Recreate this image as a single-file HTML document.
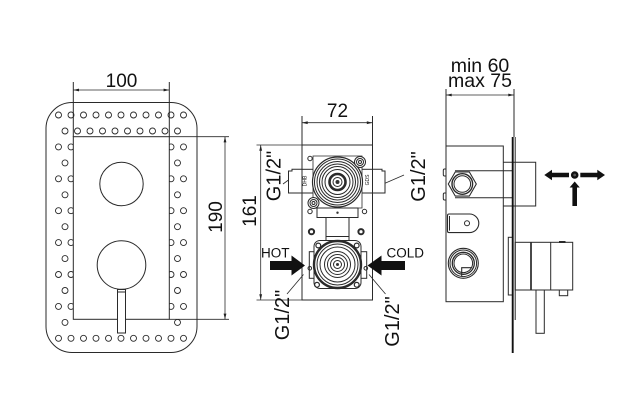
<!DOCTYPE html>
<html><head><meta charset="utf-8">
<style>
html,body{margin:0;padding:0;background:#fff;}
svg{display:block;}
text{font-family:"Liberation Sans",Arial,sans-serif;fill:#111;}
</style></head><body>
<svg width="628" height="410" viewBox="0 0 628 410" xmlns="http://www.w3.org/2000/svg">
<rect x="0" y="0" width="628" height="410" fill="#fff"/>
<g fill="none" stroke="#2a2a2a" stroke-width="1">

<!-- ============ LEFT PANEL ============ -->
<rect x="46" y="102.5" width="151" height="250" rx="26" ry="26"/>
<!-- holes -->
<g stroke-width="0.9">
<!-- row 0 -->
<circle cx="58.5" cy="115" r="3"/><circle cx="71" cy="115" r="3"/><circle cx="83.5" cy="115" r="3"/><circle cx="96" cy="115" r="3"/><circle cx="108.5" cy="115" r="3"/><circle cx="121" cy="115" r="3"/><circle cx="133.5" cy="115" r="3"/><circle cx="146" cy="115" r="3"/><circle cx="158.5" cy="115" r="3"/><circle cx="171" cy="115" r="3"/><circle cx="183.5" cy="115" r="3"/>
<!-- row 1 -->
<circle cx="65" cy="131" r="3"/><circle cx="77.5" cy="131" r="3"/><circle cx="90" cy="131" r="3"/><circle cx="102.5" cy="131" r="3"/><circle cx="115" cy="131" r="3"/><circle cx="127.5" cy="131" r="3"/><circle cx="140" cy="131" r="3"/><circle cx="152.5" cy="131" r="3"/><circle cx="165" cy="131" r="3"/><circle cx="177.5" cy="131" r="3"/>
<!-- side rows -->
<circle cx="58.5" cy="146.9" r="3"/><circle cx="71" cy="146.9" r="3"/><circle cx="171" cy="146.9" r="3"/><circle cx="183.5" cy="146.9" r="3"/>
<circle cx="65" cy="162.9" r="3"/><circle cx="177.5" cy="162.9" r="3"/>
<circle cx="58.5" cy="178.8" r="3"/><circle cx="71" cy="178.8" r="3"/><circle cx="171" cy="178.8" r="3"/><circle cx="183.5" cy="178.8" r="3"/>
<circle cx="65" cy="194.8" r="3"/><circle cx="177.5" cy="194.8" r="3"/>
<circle cx="58.5" cy="210.7" r="3"/><circle cx="71" cy="210.7" r="3"/><circle cx="171" cy="210.7" r="3"/><circle cx="183.5" cy="210.7" r="3"/>
<circle cx="65" cy="226.7" r="3"/><circle cx="177.5" cy="226.7" r="3"/>
<circle cx="58.5" cy="242.6" r="3"/><circle cx="71" cy="242.6" r="3"/><circle cx="171" cy="242.6" r="3"/><circle cx="183.5" cy="242.6" r="3"/>
<circle cx="65" cy="258.6" r="3"/><circle cx="177.5" cy="258.6" r="3"/>
<circle cx="58.5" cy="274.5" r="3"/><circle cx="71" cy="274.5" r="3"/><circle cx="171" cy="274.5" r="3"/><circle cx="183.5" cy="274.5" r="3"/>
<circle cx="65" cy="290.5" r="3"/><circle cx="177.5" cy="290.5" r="3"/>
<circle cx="58.5" cy="306.4" r="3"/><circle cx="71" cy="306.4" r="3"/><circle cx="171" cy="306.4" r="3"/><circle cx="183.5" cy="306.4" r="3"/>
<circle cx="65" cy="322.4" r="3"/><circle cx="177.5" cy="322.4" r="3"/>
<!-- row 14 -->
<circle cx="58.5" cy="338.3" r="3"/><circle cx="71" cy="338.3" r="3"/><circle cx="83.5" cy="338.3" r="3"/><circle cx="96" cy="338.3" r="3"/><circle cx="108.5" cy="338.3" r="3"/><circle cx="121" cy="338.3" r="3"/><circle cx="133.5" cy="338.3" r="3"/><circle cx="146" cy="338.3" r="3"/><circle cx="158.5" cy="338.3" r="3"/><circle cx="171" cy="338.3" r="3"/><circle cx="183.5" cy="338.3" r="3"/>
</g>
<!-- 100 dimension -->
<line x1="73.3" y1="82" x2="73.3" y2="137"/>
<line x1="169.3" y1="82" x2="169.3" y2="137"/>
<line x1="73.3" y1="90" x2="169.3" y2="90" stroke-width="0.8"/>
<!-- plate -->
<rect x="73.3" y="136.7" width="96" height="182.6" fill="#fff"/>
<circle cx="121.5" cy="184" r="21.7" fill="#fff"/>
<circle cx="121.5" cy="265" r="24.3" fill="#fff"/>
<rect x="117.5" y="289.5" width="8" height="43.5" fill="#fff"/>
<line x1="117.5" y1="292" x2="125.5" y2="292"/>
<!-- 190 dimension -->
<line x1="169.3" y1="136.7" x2="229" y2="136.7" stroke-width="0.8"/>
<line x1="169.3" y1="319.3" x2="229" y2="319.3" stroke-width="0.8"/>
<line x1="225" y1="136.7" x2="225" y2="319.3" stroke-width="0.8"/>

<!-- ============ MIDDLE PANEL ============ -->
<line x1="302" y1="116" x2="302" y2="145"/>
<line x1="372.5" y1="116" x2="372.5" y2="145"/>
<line x1="302" y1="122.7" x2="372.5" y2="122.7" stroke-width="0.8"/>
<line x1="256.5" y1="145" x2="302" y2="145" stroke-width="0.8"/>
<line x1="256.5" y1="300" x2="302" y2="300" stroke-width="0.8"/>
<line x1="260.7" y1="145" x2="260.7" y2="300" stroke-width="0.8"/>
<rect x="302" y="145" width="70.5" height="155" fill="#fff"/>
<!-- top valve arms -->
<path d="M288.5 171 L292 171 L292 169.3 L302 169.3 L302 193 L288.5 193 Z" fill="#fff"/>
<path d="M372.5 169.3 L382 169.3 L382 171 L385 171 L385 193 L372.5 193 Z" fill="#fff"/>
<line x1="302" y1="169.3" x2="313" y2="169.3"/>
<line x1="302" y1="193" x2="313" y2="193"/>
<line x1="362" y1="169.3" x2="372.5" y2="169.3"/>
<line x1="362" y1="193" x2="372.5" y2="193"/>
<!-- block -->
<path d="M313 208 L313 156 L362 156 L362 208 Z" fill="#fff" stroke-width="0.8"/>
<rect x="317" y="208" width="41" height="9.5" fill="#fff"/>
<circle cx="337.5" cy="212.7" r="1.2" fill="#333" stroke="none"/>
<!-- small holes -->
<circle cx="310" cy="158.5" r="2.2"/>
<circle cx="310" cy="211.5" r="2.2"/>
<circle cx="364.5" cy="211.5" r="2.2"/>
<!-- rings -->
<circle cx="337.5" cy="182" r="25" fill="#fff" stroke-width="1.2"/>
<circle cx="337.5" cy="182" r="23"/>
<circle cx="337.5" cy="182" r="20.5"/>
<circle cx="337.5" cy="182" r="18"/>
<circle cx="337.5" cy="182" r="15.5"/>
<circle cx="337.5" cy="182" r="12.5"/>
<circle cx="337.5" cy="182" r="8" stroke-width="2.6"/>
<circle cx="337.5" cy="182" r="4.5"/>
<circle cx="337.5" cy="182" r="2" fill="#333" stroke="none"/>
<!-- screw clusters -->
<circle cx="360" cy="162" r="5.5" fill="#fff"/><circle cx="360" cy="162" r="3.5"/><circle cx="360" cy="162" r="1.5"/>
<circle cx="313.5" cy="203" r="5.5" fill="#fff"/><circle cx="313.5" cy="203" r="3.5"/><circle cx="313.5" cy="203" r="1.5"/>
<!-- stem -->
<line x1="326" y1="217.5" x2="326" y2="240.5"/>
<line x1="349" y1="217.5" x2="349" y2="240.5"/>
<line x1="326" y1="236.5" x2="349" y2="236.5"/>
<circle cx="311.5" cy="231.7" r="2.6" stroke-width="2"/>
<circle cx="361" cy="231.7" r="2.6" stroke-width="2"/>
<!-- bottom valve -->
<rect x="309.3" y="251.7" width="7" height="26.6" fill="#fff"/>
<rect x="358.7" y="251.7" width="8" height="26.6" fill="#fff"/>
<circle cx="309.8" cy="268.3" r="1.8"/>
<circle cx="365.8" cy="268.3" r="1.8"/>
<rect x="314" y="240.5" width="47" height="48" rx="6" fill="#fff"/>
<circle cx="318.3" cy="245.5" r="2.4" stroke-width="1.2"/>
<circle cx="356.7" cy="245.5" r="2.4" stroke-width="1.2"/>
<circle cx="317" cy="284.8" r="2.4" stroke-width="1.2"/>
<circle cx="356.7" cy="284.8" r="2.4" stroke-width="1.2"/>
<circle cx="337.5" cy="264.5" r="23.5" fill="#fff" stroke-width="2.4"/>
<circle cx="337.5" cy="264.5" r="20.5"/>
<circle cx="337.5" cy="264.5" r="17.5"/>
<circle cx="337.5" cy="264.5" r="13"/>
<circle cx="337.5" cy="264.5" r="10"/>
<circle cx="337.5" cy="264.5" r="7"/>
<circle cx="337.5" cy="264.5" r="4"/>
<circle cx="337.5" cy="264.5" r="1.5" fill="#333" stroke="none"/>
<!-- leaders -->
<line x1="283" y1="184" x2="288.5" y2="180" stroke-width="0.8"/>
<line x1="385" y1="183.3" x2="404" y2="175" stroke-width="0.8"/>
<line x1="303.5" y1="274.5" x2="287" y2="294" stroke-width="0.8"/>
<line x1="369" y1="274.5" x2="385.5" y2="294" stroke-width="0.8"/>

<!-- ============ RIGHT PANEL ============ -->
<line x1="446" y1="89" x2="446" y2="146"/>
<line x1="514" y1="89" x2="514" y2="137"/>
<line x1="446" y1="95" x2="514" y2="95" stroke-width="0.8"/>
<rect x="446" y="146" width="57.3" height="155.7"/>
<line x1="455" y1="170.7" x2="512.7" y2="170.7"/>
<line x1="455" y1="197.7" x2="512.7" y2="197.7"/>
<path d="M503.3 162.3 H535.7 V206 H503.3"/>
<!-- bumps -->
<path d="M446 169 H444.5 Q443.3 169 443.3 170.5 V174.5 Q443.3 176 444.5 176 H446"/>
<path d="M446 193 H444.5 Q443.3 193 443.3 194.5 V198.5 Q443.3 200 444.5 200 H446"/>
<!-- hex nut -->
<polygon points="476.3,184 469.3,171.9 455.3,171.9 448.3,184 455.3,196.1 469.3,196.1" fill="#fff" stroke-width="1.1"/>
<circle cx="462.3" cy="184" r="10.3" stroke-width="1.4"/>
<circle cx="462.3" cy="184" r="8.3"/>
<!-- slot -->
<path d="M449 214 H469.5 A9.3 9.3 0 0 1 469.5 232.6 H449 Q447.5 232.6 447.5 231 V215.6 Q447.5 214 449 214 Z" stroke-width="1.1"/>
<line x1="449.5" y1="216" x2="449.5" y2="230.6"/>
<circle cx="467" cy="223.3" r="2.5"/>
<!-- lower knob -->
<circle cx="463.3" cy="263.3" r="15" stroke-width="1.1"/>
<circle cx="463.3" cy="263.3" r="13.3"/>
<circle cx="463.3" cy="263.3" r="11" stroke-width="1.3"/>
<circle cx="463.3" cy="263.3" r="9.3"/>
<path d="M461.7 276.5 V267.7 H471.5" stroke-width="1.1"/>
<!-- flange, wall -->
<rect x="508.3" y="237.3" width="4.4" height="57.7"/>
<line x1="512.7" y1="137" x2="512.7" y2="353" stroke-width="1.9" stroke="#111"/>
<line x1="515.2" y1="137" x2="515.2" y2="320" stroke-width="1"/>
<!-- handle -->
<rect x="515.2" y="242.3" width="57.5" height="47.7" stroke-width="1"/>
<line x1="531" y1="242.3" x2="531" y2="290" stroke-width="1.7"/>
<line x1="550.7" y1="242.3" x2="550.7" y2="290"/>
<line x1="559" y1="242" x2="565.5" y2="242" stroke-width="2"/>
<rect x="536" y="290" width="8.3" height="43.3"/>
<rect x="559.3" y="290" width="8.4" height="5.7"/>
</g>

<!-- dimension arrowheads -->
<g fill="#222">
<polygon points="73.3,90 79,88.6 79,91.4"/><polygon points="169.3,90 163.6,88.6 163.6,91.4"/>
<polygon points="225,136.7 223.6,142.4 226.4,142.4"/><polygon points="225,319.3 223.6,313.6 226.4,313.6"/>
<polygon points="302,122.7 307.7,121.3 307.7,124.1"/><polygon points="372.5,122.7 366.8,121.3 366.8,124.1"/>
<polygon points="260.7,145 259.3,150.7 262.1,150.7"/><polygon points="260.7,300 259.3,294.3 262.1,294.3"/>
<polygon points="446,95 451.7,93.6 451.7,96.4"/><polygon points="514,95 508.3,93.6 508.3,96.4"/>
</g>

<!-- HOT / COLD arrows -->
<g fill="#111">
<polygon points="270,261 291.5,261 291.5,255.5 305,265.5 291.5,275.5 291.5,270 270,270"/>
<polygon points="405,261 381.5,261 381.5,255.5 367.5,265.5 381.5,275.5 381.5,270 405,270"/>
<!-- movement symbol -->
<polygon points="544.3,175 552,169.8 552,172.8 569,172.8 569,177.2 552,177.2 552,180.2"/>
<polygon points="605,175 597.3,169.8 597.3,172.8 580.3,172.8 580.3,177.2 597.3,177.2 597.3,180.2"/>
<polygon points="574.7,181.5 579.8,187.5 577,187.5 577,206 572.4,206 572.4,187.5 569.6,187.5"/>
<circle cx="574.7" cy="175" r="3.8"/>
</g>
<circle cx="574.7" cy="175" r="1.4" fill="#555"/>

<!-- texts -->
<text x="121.5" y="87" font-size="19" text-anchor="middle">100</text>
<text transform="translate(215 217) rotate(-90)" x="0" y="6.8" font-size="19" text-anchor="middle">190</text>
<text x="337.5" y="117" font-size="19" text-anchor="middle">72</text>
<text transform="translate(249 211) rotate(-90)" x="0" y="6.8" font-size="19" text-anchor="middle">161</text>
<text transform="translate(273.5 176) rotate(-90)" x="0" y="7.2" font-size="20" text-anchor="middle">G1/2"</text>
<text transform="translate(418 176.5) rotate(-90)" x="0" y="7.2" font-size="20" text-anchor="middle">G1/2"</text>
<text transform="translate(282 315) rotate(-90)" x="0" y="7.2" font-size="20" text-anchor="middle">G1/2"</text>
<text transform="translate(392 321.5) rotate(-90)" x="0" y="7.2" font-size="20" text-anchor="middle">G1/2"</text>
<text x="261" y="257.5" font-size="13.5">HOT</text>
<text x="386.5" y="257.5" font-size="13.5">COLD</text>
<text transform="translate(304.6 181) rotate(-90)" x="0" y="1.8" font-size="5" text-anchor="middle">DHB</text>
<text transform="translate(367.3 180) rotate(-90)" x="0" y="1.8" font-size="5" text-anchor="middle">GDS</text>
<text x="480" y="72" font-size="19.5" text-anchor="middle">min 60</text>
<text x="480" y="87" font-size="19.5" text-anchor="middle">max 75</text>
</svg>
</body></html>
